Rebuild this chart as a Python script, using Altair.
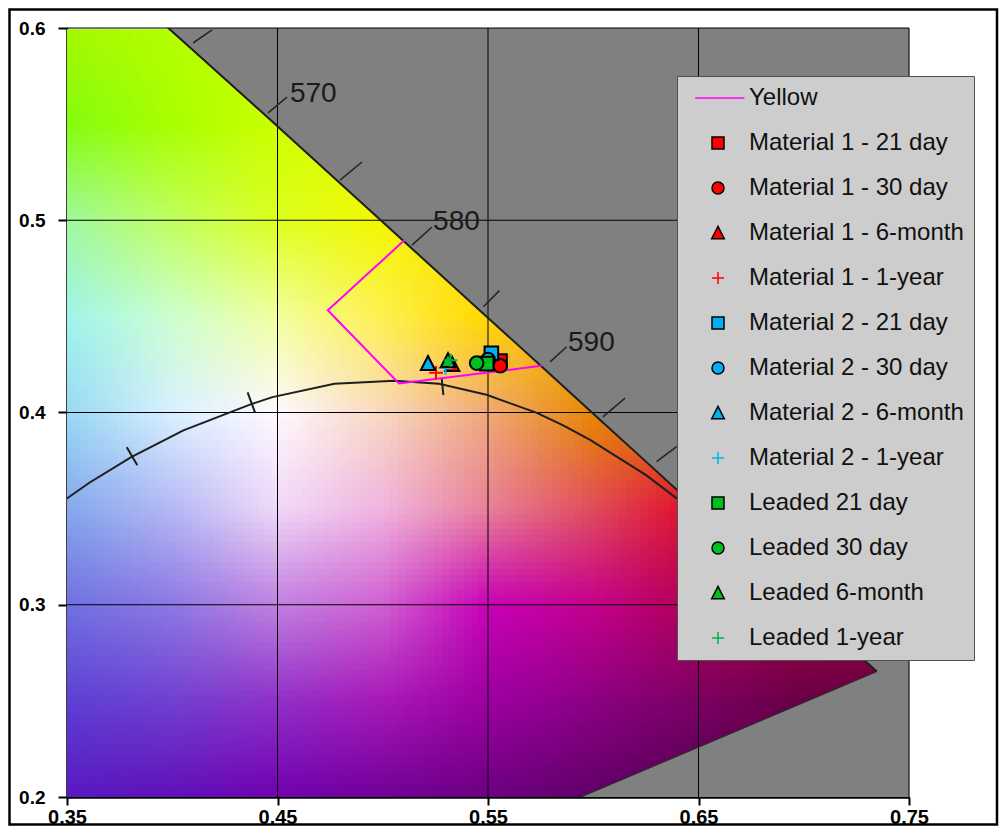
import altair as alt
import numpy as np
import pandas as pd

FONT = "Liberation Sans"

# ---------------- data ----------------
# CIE 1931 spectral locus (nm, x, y)
locus_nm = [555, 560, 565, 570, 575, 580, 585, 590, 595, 600, 605, 610, 615, 620,
            625, 630, 635, 640, 645, 650, 660, 670, 680, 700]
locus_x = [0.3424, 0.3731, 0.4087, 0.4441, 0.4788, 0.5125, 0.5448, 0.5752, 0.6029,
           0.6270, 0.6482, 0.6658, 0.6801, 0.6915, 0.7006, 0.7079, 0.7140, 0.7190,
           0.7230, 0.7260, 0.7300, 0.7320, 0.7334, 0.7347]
locus_y = [0.6548, 0.6245, 0.5896, 0.5547, 0.5202, 0.4866, 0.4544, 0.4242, 0.3965,
           0.3725, 0.3514, 0.3340, 0.3197, 0.3083, 0.2993, 0.2920, 0.2859, 0.2809,
           0.2770, 0.2740, 0.2700, 0.2680, 0.2666, 0.2653]

# line of purples
purple_x = [0.1741, 0.7347]
purple_y = [0.0050, 0.2653]

# wavelength tick marks on the locus (start / end)
wl_tick_x1 = [0.4099, 0.4455, 0.4797, 0.5139, 0.5478, 0.5795, 0.6046, 0.6301]
wl_tick_y1 = [0.5922, 0.5558, 0.5209, 0.4871, 0.4550, 0.4263, 0.3977, 0.3744]
wl_tick_x2 = [0.4189, 0.4545, 0.4901, 0.5234, 0.5554, 0.5874, 0.6151, 0.6396]
wl_tick_y2 = [0.5990, 0.5641, 0.5303, 0.4965, 0.4634, 0.4342, 0.4075, 0.3822]

wl_labels = ["570", "580", "590"]
wl_label_x = [0.4559, 0.5239, 0.5880]
wl_label_y = [0.5657, 0.4991, 0.4361]

# Planckian locus
planck_x = [0.3451, 0.3608, 0.3805, 0.4053, 0.4369, 0.4476, 0.4770, 0.5056, 0.5267,
            0.5493, 0.5732, 0.5857, 0.5985, 0.6251, 0.6528]
planck_y = [0.3516, 0.3636, 0.3768, 0.3907, 0.4041, 0.4080, 0.4150, 0.4165, 0.4150,
            0.4092, 0.3998, 0.3933, 0.3858, 0.3674, 0.3444]
planck_tick_x1 = [0.3784, 0.4358, 0.5280]
planck_tick_y1 = [0.3819, 0.4105, 0.4179]
planck_tick_x2 = [0.3834, 0.4393, 0.5288]
planck_tick_y2 = [0.3725, 0.4001, 0.4091]

# Yellow colour box
yellow_x = [0.5105, 0.4739, 0.5077, 0.5755]
yellow_y = [0.4898, 0.4532, 0.4151, 0.4243]

# measured chromaticities
series = ["Material 1 - 21 day", "Material 1 - 30 day", "Material 1 - 6-month",
          "Material 1 - 1-year", "Material 2 - 21 day", "Material 2 - 30 day",
          "Material 2 - 6-month", "Material 2 - 1-year", "Leaded 21 day",
          "Leaded 30 day", "Leaded 6-month", "Leaded 1-year"]
pt_x = [0.5557, 0.5558, 0.5330, 0.5253, 0.5516, 0.5500, 0.5215, 0.5298, 0.5494,
        0.5446, 0.5310, 0.5322]
pt_y = [0.4267, 0.4243, 0.4250, 0.4207, 0.4308, 0.4275, 0.4255, 0.4232, 0.4254,
        0.4257, 0.4270, 0.4272]

xticks = [0.35, 0.45, 0.55, 0.65, 0.75]
yticks = [0.2, 0.3, 0.4, 0.5, 0.6]
xgrid = [0.45, 0.55, 0.65, 0.75]
ygrid = [0.3, 0.4, 0.5, 0.6]

# background colour control grid (rows y=0.60..0.20, cols x=0.35..0.75)
grid_colors = [
    ["#a4f800", "#b4ff00", "#c8ff00", "#e0f000", "#f0e000", "#f0c000", "#e09000", "#d06000", "#c04000"],
    ["#84fc10", "#a8ff00", "#ccff00", "#eaf800", "#f8e000", "#f0c000", "#e09000", "#d06000", "#c04000"],
    ["#a0f8a0", "#c0ff60", "#dcff20", "#f2f800", "#ffe000", "#f0b800", "#e08800", "#d05000", "#c03000"],
    ["#a0f4ec", "#ccffd0", "#f2ffa0", "#fff050", "#ffd800", "#f4b000", "#e88000", "#d85000", "#c82000"],
    ["#98d8f4", "#d8f0ff", "#fff8ff", "#f8d8c0", "#f0a878", "#e88800", "#e06800", "#d04000", "#c01000"],
    ["#84a8ec", "#b4b8f4", "#f0d8f8", "#f0b4e0", "#e88098", "#e04c5c", "#e00828", "#d00020", "#c00020"],
    ["#7070e0", "#8c78e4", "#c080e0", "#d060d0", "#c800b8", "#c4008c", "#b00054", "#a00040", "#a00040"],
    ["#5c40d4", "#7040d0", "#9030c8", "#a818b8", "#9c00a0", "#8c0084", "#7c0064", "#680044", "#600040"],
    ["#5818c0", "#6010b8", "#7000b0", "#700098", "#6c0080", "#600068", "#500050", "#500040", "#500040"],
]

# ---------------- styles ----------------
legend_names = ["Yellow"] + series
RED, BLUE, GREEN, GREEN_P = "#ff0000", "#00b0f0", "#00c020", "#00b050"
fills = ["transparent", RED, RED, RED, "transparent", BLUE, BLUE, BLUE, "transparent",
         GREEN, GREEN, GREEN, "transparent"]
strokes = ["#ff00ff", "black", "black", "black", RED, "black", "black", "black", BLUE,
           "black", "black", "black", GREEN_P]
SQ = "M-1,-1H1V1H-1Z"
CI = "M-1,0A1,1,0,1,1,1,0A1,1,0,1,1,-1,0Z"
TR = "M0,-1.1L1.05,0.95L-1.05,0.95Z"
PL = "M-1,0H1M0,-1V1"
shapes = ["M-3.8,0H4.4", SQ, CI, TR, PL, SQ, CI, TR, PL, SQ, CI, TR, PL]

# ---------------- background cells ----------------
rgb = np.array([[[int(c[i:i + 2], 16) for i in (1, 3, 5)] for c in row] for row in grid_colors], float)
step = 0.0035
cx = np.arange(0.35 + step / 2, 0.75, step)
cy = np.arange(0.20 + step / 2, 0.60, step)
h = step * 0.6
rows = []
for xv in cx:
    ly = np.interp(xv, locus_x, locus_y)
    py = purple_y[0] + (xv - purple_x[0]) * (purple_y[1] - purple_y[0]) / (purple_x[1] - purple_x[0])
    for yv in cy:
        if yv > ly + 0.007 or yv < py - 0.007 or xv > 0.734:
            continue
        fi = (xv - 0.35) / 0.05
        fj = (0.60 - yv) / 0.05
        i0 = min(int(fi), 7)
        j0 = min(int(fj), 7)
        tx = fi - i0
        ty = fj - j0
        c = (rgb[j0, i0] * (1 - tx) * (1 - ty) + rgb[j0, i0 + 1] * tx * (1 - ty)
             + rgb[j0 + 1, i0] * (1 - tx) * ty + rgb[j0 + 1, i0 + 1] * tx * ty)
        c = np.clip(np.round(c), 0, 255).astype(int)
        rows.append({"a": round(xv - h, 4), "b": round(xv + h, 4),
                     "c": round(yv - h, 4), "d": round(yv + h, 4),
                     "k": "#%02x%02x%02x" % tuple(c)})
cells = pd.DataFrame(rows)

# ---------------- scales / axes ----------------
xs = alt.Scale(domain=[0.35, 0.75], nice=False, zero=False)
ys = alt.Scale(domain=[0.2, 0.6], nice=False, zero=False)
xaxis = alt.Axis(values=xticks, format=".2f", title=None, grid=False, labelFont=FONT,
                 labelFontWeight="bold", labelFontSize=20, labelColor="black",
                 tickSize=8, tickWidth=2, tickColor="black", domainColor="black",
                 domainWidth=2.5, labelPadding=2, labelFlush=False, labelOverlap=False)
yaxis = alt.Axis(values=yticks, format=".1f", title=None, grid=False, labelFont=FONT,
                 labelFontWeight="bold", labelFontSize=19, labelColor="black",
                 tickSize=9, tickWidth=2, tickColor="black", domainColor="black",
                 domainWidth=2.5, labelPadding=13, labelFlush=False, labelOverlap=False)


def X(f):
    return alt.X(f + ":Q", scale=xs, axis=xaxis)


def Y(f):
    return alt.Y(f + ":Q", scale=ys, axis=yaxis)


bg = alt.Chart(cells).mark_rect(clip=True, strokeWidth=0).encode(
    x=X("a"), x2="b:Q", y=Y("c"), y2="d:Q", color=alt.Color("k:N", scale=None))

top_df = pd.DataFrame({"x": locus_x + [0.7347, 0.76], "y": locus_y + [0.19, 0.19]})
top_df["y2"] = 0.6
gray_top = alt.Chart(top_df).mark_area(color="#808080", clip=True, opacity=1).encode(
    x=X("x"), y=Y("y"), y2="y2:Q")

bot_df = pd.DataFrame({"x": purple_x + [0.76], "y": purple_y + [0.2653]})
bot_df["y2"] = 0.19
gray_bot = alt.Chart(bot_df).mark_area(color="#808080", clip=True, opacity=1).encode(
    x=X("x"), y=Y("y"), y2="y2:Q")

gx = alt.Chart(pd.DataFrame({"g": xgrid})).mark_rule(color="black", strokeWidth=1).encode(x=X("g"))
gy = alt.Chart(pd.DataFrame({"g": ygrid})).mark_rule(color="black", strokeWidth=1).encode(y=Y("g"))

loc_df = pd.DataFrame({"x": locus_x, "y": locus_y, "i": list(range(len(locus_x)))})
locus_line = alt.Chart(loc_df).mark_line(color="#1e1e1e", strokeWidth=2, clip=True).encode(
    x=X("x"), y=Y("y"), order="i:Q")
pur_df = pd.DataFrame({"x": purple_x, "y": purple_y, "i": [0, 1]})
purple_line = alt.Chart(pur_df).mark_line(color="#2a2a2a", strokeWidth=1.2, clip=True).encode(
    x=X("x"), y=Y("y"), order="i:Q")

wl_df = pd.DataFrame({"x1": wl_tick_x1, "y1": wl_tick_y1, "x2": wl_tick_x2, "y2": wl_tick_y2})
wl_ticks = alt.Chart(wl_df).mark_rule(color="#262626", strokeWidth=1.6).encode(
    x=X("x1"), y=Y("y1"), x2="x2:Q", y2="y2:Q")
wl_lab_df = pd.DataFrame({"x": wl_label_x, "y": wl_label_y, "t": wl_labels})
wl_text = alt.Chart(wl_lab_df).mark_text(align="left", baseline="middle", font=FONT,
                                         fontSize=28, color="#1a1a1a").encode(
    x=X("x"), y=Y("y"), text="t:N")

pl_df = pd.DataFrame({"x": planck_x, "y": planck_y, "i": list(range(len(planck_x)))})
planck_line = alt.Chart(pl_df).mark_line(color="#1e1e1e", strokeWidth=2, clip=True).encode(
    x=X("x"), y=Y("y"), order="i:Q")
pt_df = pd.DataFrame({"x1": planck_tick_x1, "y1": planck_tick_y1,
                      "x2": planck_tick_x2, "y2": planck_tick_y2})
planck_ticks = alt.Chart(pt_df).mark_rule(color="#1e1e1e", strokeWidth=2).encode(
    x=X("x1"), y=Y("y1"), x2="x2:Q", y2="y2:Q")

yl_df = pd.DataFrame({"x": yellow_x, "y": yellow_y, "i": [0, 1, 2, 3]})
yellow = alt.Chart(yl_df).mark_line(color="#ff00ff", strokeWidth=2).encode(
    x=X("x"), y=Y("y"), order="i:Q")

leg = alt.Legend(title=None, orient="none", legendX=610, legendY=48, padding=10,
                 fillColor="#cdcdcd", strokeColor="#505050", labelFont=FONT,
                 labelFontSize=24, labelColor="#111111", labelLimit=400,
                 symbolSize=144, symbolStrokeWidth=1.5, symbolOffset=19,
                 labelOffset=19, rowPadding=21, direction="vertical")
pts_df = pd.DataFrame({"series": series, "x": pt_x, "y": pt_y})
points = alt.Chart(pts_df).mark_point(size=185, strokeWidth=2, opacity=1, filled=False).encode(
    x=X("x"), y=Y("y"),
    fill=alt.Fill("series:N", scale=alt.Scale(domain=legend_names, range=fills), legend=leg),
    stroke=alt.Stroke("series:N", scale=alt.Scale(domain=legend_names, range=strokes), legend=leg),
    shape=alt.Shape("series:N", scale=alt.Scale(domain=legend_names, range=shapes), legend=leg),
)

frame = alt.Chart(pd.DataFrame({"k": [0]})).mark_rect(
    fillOpacity=0, stroke="black", strokeWidth=2.5).encode(
    x=alt.value(-57.5), x2=alt.value(930), y=alt.value(-18.5), y2=alt.value(796.5))

chart = alt.layer(bg, gray_top, gray_bot, gx, gy, locus_line, purple_line, wl_ticks,
                  wl_text, planck_line, planck_ticks, yellow, points, frame).properties(
    width=842, height=769,
    autosize=alt.AutoSizeParams(type="none"),
    padding={"left": 59, "top": 20, "right": 90, "bottom": 29},
).configure_view(strokeWidth=0).configure(background="white")

chart.save("out.html", embed_options={"renderer": "svg", "actions": False})
